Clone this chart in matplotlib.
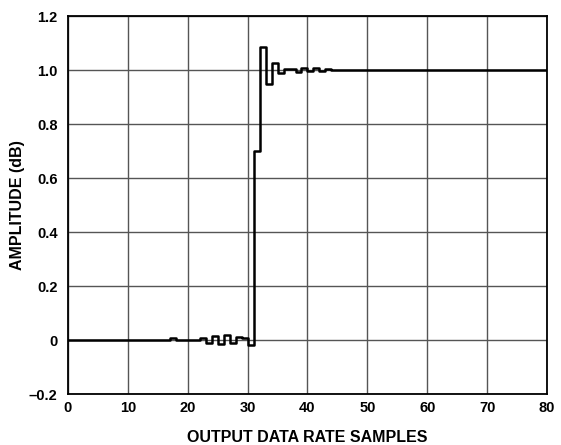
import numpy as np
import matplotlib.pyplot as plt

plt.rcParams['font.family'] = ['Liberation Sans', 'DejaVu Sans']

# step response samples (value held from sample n to n+1)
samples = np.arange(0, 81)
amplitude = np.zeros(81)
ringing = {
    17: 0.006,
    22: 0.008, 23: -0.01, 24: 0.015, 25: -0.015, 26: 0.02,
    27: -0.012, 28: 0.012, 29: 0.008, 30: -0.02,
    31: 0.70, 32: 1.085, 33: 0.95, 34: 1.025, 35: 0.99,
    36: 1.005, 37: 1.005, 38: 0.993, 39: 1.006, 40: 0.995,
    41: 1.006, 42: 0.995, 43: 1.004,
}
for k, v in ringing.items():
    amplitude[k] = v
amplitude[44:] = 1.0

xticks = np.arange(0, 81, 10)
yticks = np.arange(-0.2, 1.21, 0.2)
ytick_labels = ['\u20130.2', '0', '0.2', '0.4', '0.6', '0.8', '1.0', '1.2']

fig = plt.figure(figsize=(5.61, 4.45), dpi=100)
ax = fig.add_axes([0.1212, 0.1146, 0.8538, 0.8494])

ax.step(samples, amplitude, where='post', color='black', lw=1.8, zorder=3)

ax.set_xlim(0, 80)
ax.set_ylim(-0.2, 1.2)
ax.set_xticks(xticks)
ax.set_yticks(yticks)
ax.set_yticklabels(ytick_labels)
ax.grid(True, color='#555555', lw=1.0)
ax.tick_params(length=0, labelsize=10.5)
ax.tick_params(axis='x', pad=5)
ax.tick_params(axis='y', pad=7.5)
for lab in ax.get_xticklabels() + ax.get_yticklabels():
    lab.set_fontweight('bold')
for s in ax.spines.values():
    s.set_linewidth(1.3)

ax.set_xlabel('OUTPUT DATA RATE SAMPLES', fontsize=11.5, fontweight='bold', labelpad=11)
ax.set_ylabel('AMPLITUDE (dB)', fontsize=11.5, fontweight='bold', labelpad=3)

fig.savefig('out.png', dpi=100)
